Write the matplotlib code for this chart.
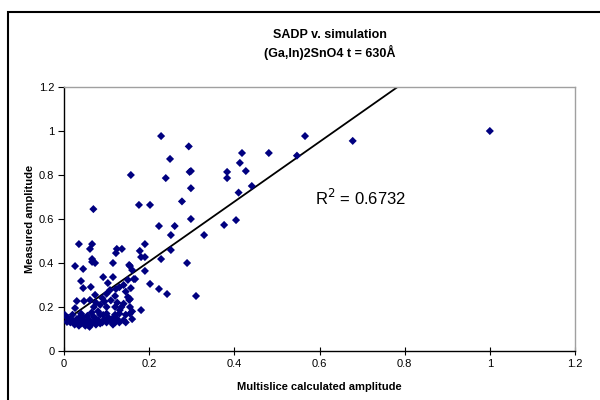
import numpy as np
import matplotlib
matplotlib.use("Agg")
import matplotlib.pyplot as plt
from matplotlib.patches import Rectangle

plt.rcParams['font.family'] = ['Liberation Sans', 'DejaVu Sans']

title_lines = ["SADP v. simulation", "(Ga,In)2SnO4 t = 630Å"]
x_label = "Multislice calculated amplitude"
y_label = "Measured amplitude"
r2_label = "R$^2$ = 0.6732"
ticks = [0, 0.2, 0.4, 0.6, 0.8, 1, 1.2]
tick_labels = ["0", "0.2", "0.4", "0.6", "0.8", "1", "1.2"]

sim_amp = [
    1.0, 0.678, 0.566, 0.547, 0.481, 0.418, 0.413, 0.383, 0.383, 0.427,
    0.441, 0.41, 0.376, 0.404, 0.228, 0.293, 0.249, 0.157, 0.239, 0.295,
    0.298, 0.298, 0.277, 0.176, 0.202, 0.069, 0.298, 0.223, 0.26, 0.251,
    0.329, 0.19, 0.178, 0.251, 0.181, 0.19, 0.228, 0.289, 0.155, 0.16,
    0.19, 0.164, 0.202, 0.223, 0.242, 0.31, 0.157, 0.155, 0.181, 0.035,
    0.066, 0.061, 0.124, 0.136, 0.122, 0.066, 0.066, 0.073, 0.026, 0.045,
    0.115, 0.153, 0.092, 0.115, 0.04, 0.15, 0.167, 0.045, 0.063, 0.073,
    0.15, 0.153, 0.131, 0.03, 0.047, 0.061, 0.026, 0.002, 0.115, 0.092,
    0.007,
    0.085, 0.09, 0.1, 0.103, 0.108, 0.122, 0.13, 0.14, 0.145, 0.12,
    0.11, 0.125, 0.135, 0.1, 0.095, 0.08, 0.07, 0.075, 0.12, 0.14,
    0.155, 0.16, 0.155, 0.13, 0.145,
    0.01, 0.015, 0.02, 0.025, 0.03, 0.035, 0.035, 0.04, 0.045, 0.05,
    0.05, 0.055, 0.055, 0.06, 0.06, 0.065, 0.07, 0.07, 0.075, 0.08,
    0.085, 0.09, 0.095, 0.1, 0.105, 0.11, 0.12, 0.125, 0.13, 0.14,
    0.145, 0.16, 0.04, 0.02, 0.065, 0.085, 0.045, 0.03, 0.075, 0.055,
    0.1, 0.115, 0.12,
]
meas_amp = [
    1.0, 0.955, 0.977, 0.888, 0.9, 0.9, 0.855, 0.814, 0.786, 0.818,
    0.75, 0.72, 0.573, 0.595, 0.977, 0.93, 0.873, 0.8, 0.786, 0.814,
    0.818, 0.74, 0.68, 0.664, 0.664, 0.645, 0.6, 0.568, 0.568, 0.527,
    0.527, 0.486, 0.455, 0.459, 0.427, 0.427, 0.418, 0.4, 0.386, 0.368,
    0.364, 0.327, 0.305, 0.282, 0.259, 0.25, 0.286, 0.236, 0.186, 0.486,
    0.486, 0.464, 0.464, 0.464, 0.445, 0.418, 0.405, 0.4, 0.386, 0.373,
    0.4, 0.391, 0.336, 0.336, 0.318, 0.323, 0.327, 0.286, 0.291, 0.255,
    0.245, 0.232, 0.186, 0.227, 0.227, 0.232, 0.195, 0.164, 0.15, 0.164,
    0.132,
    0.21, 0.24, 0.26, 0.309, 0.277, 0.282, 0.29, 0.3, 0.27, 0.25,
    0.23, 0.22, 0.2, 0.2, 0.225, 0.18, 0.2, 0.22, 0.2, 0.215,
    0.2, 0.18, 0.17, 0.17, 0.165,
    0.15, 0.13, 0.14, 0.12, 0.13, 0.115, 0.15, 0.125, 0.14, 0.115,
    0.13, 0.12, 0.16, 0.11, 0.14, 0.125, 0.13, 0.155, 0.12, 0.14,
    0.125, 0.13, 0.145, 0.13, 0.15, 0.135, 0.13, 0.145, 0.13, 0.14,
    0.13, 0.145, 0.17, 0.165, 0.175, 0.165, 0.155, 0.145, 0.145, 0.14,
    0.17, 0.12, 0.165,
]

x = np.array(sim_amp)
y = np.array(meas_amp)

fig = plt.figure(figsize=(6, 4), dpi=100)
ax = fig.add_axes([64/600, 1-351/400, 511/600, 264/400])

ax.scatter(x, y, marker='D', s=17, color='#000080', edgecolors='none', zorder=3)

slope, intercept = np.polyfit(x, y, 1)
xl = np.array([0, 1.2])
ax.plot(xl, slope*xl + intercept, color='black', lw=1.3, zorder=2)

ax.set_xlim(0, 1.2)
ax.set_ylim(0, 1.2)
ax.set_xticks(ticks)
ax.set_xticklabels(tick_labels)
ax.set_yticks(ticks)
ax.set_yticklabels(tick_labels)
ax.tick_params(axis='x', direction='inout', length=6, labelsize=8, pad=3)
ax.tick_params(axis='y', direction='out', length=4, labelsize=8, pad=3)
for s in ['top', 'right']:
    ax.spines[s].set_color('#a0a0a0')
    ax.spines[s].set_linewidth(1.0)
for s in ['left', 'bottom']:
    ax.spines[s].set_color('black')
    ax.spines[s].set_linewidth(1.0)

ax.set_xlabel(x_label, fontsize=8, fontweight='bold', labelpad=9)
ax.set_ylabel(y_label, fontsize=8, fontweight='bold', labelpad=3)

ax.text(0.59, 0.695, r2_label, fontsize=12, ha='left', va='center')

fig.text(330/600, 1-35/400, title_lines[0], fontsize=9, fontweight='bold', ha='center', va='center')
fig.text(330/600, 1-52/400, title_lines[1], fontsize=9, fontweight='bold', ha='center', va='center')

fig.patches.append(Rectangle((8/600, -0.05), 1.0, 1-12/400+0.05, transform=fig.transFigure,
                             fill=False, edgecolor='black', lw=1.5))

fig.savefig("out.png", dpi=100)
